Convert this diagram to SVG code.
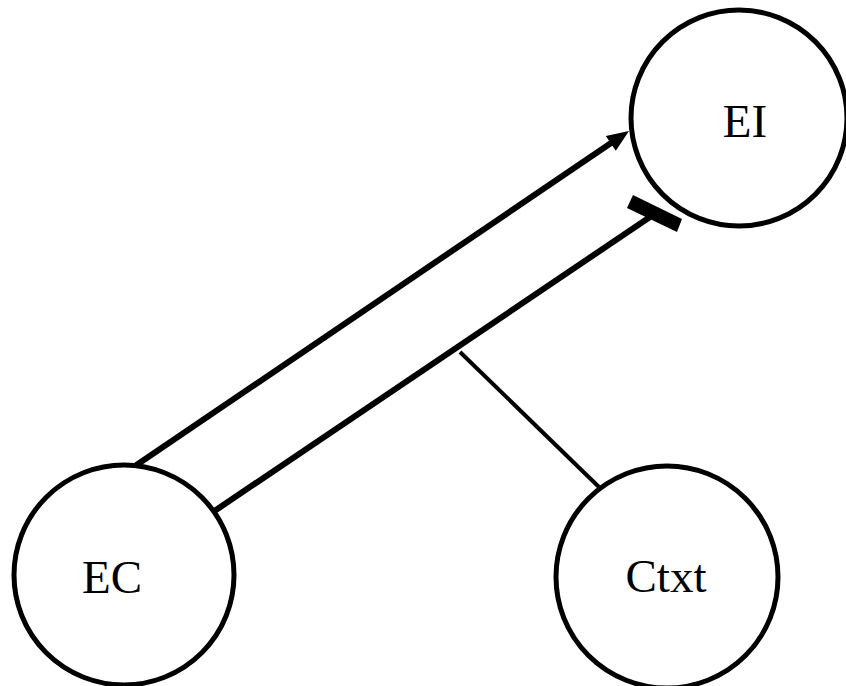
<svg xmlns="http://www.w3.org/2000/svg" width="846" height="686" viewBox="0 0 846 686">
  <defs>
    <style>
      .node circle { fill: #ffffff; stroke: #000000; stroke-width: 5; }
      .node text { font-family: "Liberation Serif", "Times New Roman", serif; font-size: 47px; fill: #000000; text-anchor: middle; }
      .edge { stroke: #000000; fill: none; stroke-linecap: butt; }
      .thick { stroke-width: 6; }
      .thin { stroke-width: 4; }
      .head { fill: #000000; stroke: none; }
    </style>
  </defs>
  <rect width="846" height="686" fill="#ffffff"/>

  <!-- connectors -->
  <g id="connectors">
    <!-- EC activates EI -->
    <line class="edge thick" x1="135" y1="466" x2="614" y2="141"/>
    <polygon class="head" points="629,131 605.8,135.9 615.8,150.7"/>
    <!-- EC inhibits EI -->
    <line class="edge thick" x1="213" y1="512" x2="650" y2="217"/>
    <polygon class="head" points="633,195 682,219 677,232 627,208"/>
    <!-- Ctxt modulates the inhibition -->
    <line class="edge thin" x1="460" y1="352" x2="601" y2="489"/>
  </g>

  <!-- nodes -->
  <g id="node-EI" class="node">
    <circle cx="739" cy="118" r="108"/>
    <text x="745" y="137">EI</text>
  </g>
  <g id="node-EC" class="node">
    <circle cx="124" cy="575" r="110"/>
    <text x="112" y="593">EC</text>
  </g>
  <g id="node-Ctxt" class="node">
    <circle cx="667" cy="577" r="111"/>
    <text x="666" y="592">Ctxt</text>
  </g>
</svg>
